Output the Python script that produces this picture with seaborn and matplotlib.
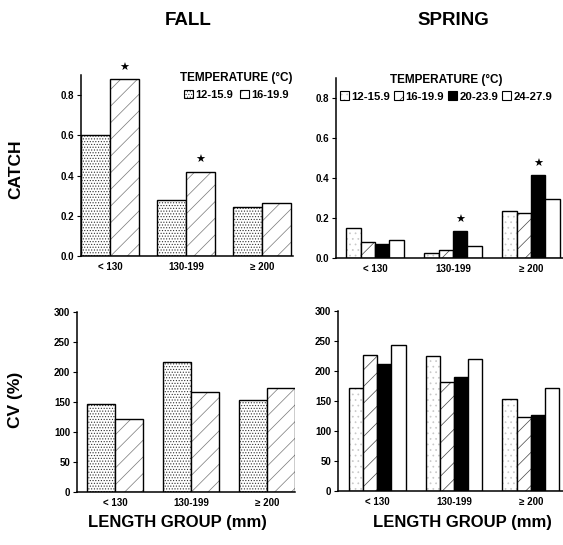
import numpy as np
import pandas as pd
import seaborn as sns
import matplotlib
matplotlib.use("Agg")
from matplotlib import pyplot as plt
from matplotlib.colors import to_rgba
from matplotlib.patches import Patch

# datos
grupos = ["< 130", "130-199", "\u2265 200"]
temps_otono = ["12-15.9", "16-19.9"]
temps_primavera = ["12-15.9", "16-19.9", "20-23.9", "24-27.9"]

catch_otono_12 = [0.60, 0.28, 0.245]
catch_otono_16 = [0.88, 0.42, 0.265]
catch_prim_12 = [0.15, 0.027, 0.235]
catch_prim_16 = [0.08, 0.038, 0.227]
catch_prim_20 = [0.072, 0.133, 0.413]
catch_prim_24 = [0.092, 0.06, 0.293]

cv_otono_12 = [147, 217, 154]
cv_otono_16 = [122, 166, 174]
cv_prim_12 = [172, 225, 153]
cv_prim_16 = [227, 182, 124]
cv_prim_20 = [212, 190, 126]
cv_prim_24 = [244, 220, 171]

# asteriscos (grupo, temperatura)
estrellas_otono = [("< 130", "16-19.9"), ("130-199", "16-19.9")]
estrellas_prim = [("130-199", "20-23.9"), ("\u2265 200", "20-23.9")]

# relleno de cada temperatura: color, trama, color de trama
estilo_otono = [("white", "......", "#333333"), ("white", "//", "#777777")]
estilo_prim = [("white", "...", "#c8c8c8"), ("white", "//", "#444444"),
               ("black", "", "black"), ("white", "", "black")]

sns.set_style("ticks")
plt.rcParams["font.family"] = ["Liberation Sans", "DejaVu Sans"]
plt.rcParams["font.weight"] = "bold"
plt.rcParams["hatch.linewidth"] = 0.5
for k in ["text.color", "axes.labelcolor", "xtick.color", "ytick.color", "axes.edgecolor"]:
    plt.rcParams[k] = "black"


def poner_trama(p, hatch, hcolor):
    # la trama sale del color del borde; se cambia despues para dejar el borde negro
    p.set_hatch(hatch)
    if hatch:
        if hasattr(p, "set_hatchcolor"):
            p.set_hatchcolor(hcolor)
        else:
            p._hatch_color = to_rgba(hcolor)


def tabla(temps, series):
    filas = []
    for t, valores in zip(temps, series):
        for g, v in zip(grupos, valores):
            filas.append({"grupo": g, "temp": t, "valor": v})
    return pd.DataFrame(filas)


def dibujar(ax, df, temps, estilos, ancho, ylim, yticks, fmt, xlim, estrellas=None):
    sns.barplot(data=df, x="grupo", y="valor", hue="temp", order=grupos, hue_order=temps,
                palette=["white"] * len(temps), width=ancho, ax=ax, legend=False,
                edgecolor="black", linewidth=1.0)
    for i, cont in enumerate(ax.containers):
        color, hatch, hcolor = estilos[i]
        for p in cont:
            p.set_facecolor(color)
            p.set_edgecolor("black")
            poner_trama(p, hatch, hcolor)
    if estrellas:
        for g, t in estrellas:
            p = ax.containers[temps.index(t)][grupos.index(g)]
            ax.annotate("\u2605", (p.get_x() + p.get_width() / 2, p.get_height()),
                        xytext=(0, 8), textcoords="offset points", ha="center", va="center",
                        fontsize=8, family="DejaVu Sans")
    ax.set_ylim(*ylim)
    ax.set_xlim(*xlim)
    ax.set_yticks(yticks)
    ax.set_yticklabels([fmt.format(v) for v in yticks])
    ax.set_xlabel("")
    ax.set_ylabel("")
    ax.tick_params(axis="y", length=3, width=0.8, labelsize=7, pad=2)
    ax.tick_params(axis="x", length=0, labelsize=7, pad=4)
    for lab in ax.get_xticklabels() + ax.get_yticklabels():
        lab.set_fontweight("bold")
    sns.despine(ax=ax)
    ax.spines["left"].set_linewidth(1.1)
    ax.spines["bottom"].set_linewidth(1.1)


def leyenda(fig, temps, estilos, x, y, tam, sep):
    handles = []
    for c, h, hc in estilos:
        pa = Patch(facecolor=c, edgecolor="black", linewidth=0.8)
        poner_trama(pa, h, hc)
        handles.append(pa)
    leg = fig.legend(handles, temps, title="TEMPERATURE (\u00b0C)", loc="upper left",
                     bbox_to_anchor=(x, y), bbox_transform=fig.transFigure, ncol=len(temps),
                     frameon=False, fontsize=tam, title_fontsize=8.5, handlelength=0.8,
                     handleheight=0.8, handletextpad=0.2, columnspacing=sep, borderpad=0,
                     borderaxespad=0)
    leg.get_title().set_fontweight("bold")
    for t in leg.get_texts():
        t.set_fontweight("bold")


fig = plt.figure(figsize=(5.63, 5.45), dpi=100)
ax1 = fig.add_axes([0.1439, 0.5303, 0.3766, 0.3321])
ax2 = fig.add_axes([0.5968, 0.5266, 0.4032, 0.3303])
ax3 = fig.add_axes([0.1368, 0.0972, 0.3872, 0.3303])
ax4 = fig.add_axes([0.6004, 0.0991, 0.3996, 0.3303])

ticks_catch = [0.0, 0.2, 0.4, 0.6, 0.8]
ticks_cv = [0, 50, 100, 150, 200, 250, 300]

dibujar(ax1, tabla(temps_otono, [catch_otono_12, catch_otono_16]), temps_otono, estilo_otono,
        0.76, (0, 0.9), ticks_catch, "{:.1f}", (-0.38, 2.41), estrellas_otono)
dibujar(ax2, tabla(temps_primavera, [catch_prim_12, catch_prim_16, catch_prim_20, catch_prim_24]),
        temps_primavera, estilo_prim, 0.74, (0, 0.9), ticks_catch, "{:.1f}", (-0.5, 2.41),
        estrellas_prim)
dibujar(ax3, tabla(temps_otono, [cv_otono_12, cv_otono_16]), temps_otono, estilo_otono,
        0.74, (0, 300), ticks_cv, "{:d}", (-0.5, 2.37))
dibujar(ax4, tabla(temps_primavera, [cv_prim_12, cv_prim_16, cv_prim_20, cv_prim_24]),
        temps_primavera, estilo_prim, 0.74, (0, 300), ticks_cv, "{:d}", (-0.51, 2.42))

leyenda(fig, temps_otono, estilo_otono, 0.320, 0.868, 8, 0.6)
leyenda(fig, temps_primavera, estilo_prim, 0.604, 0.865, 8.2, 0.35)

fig.text(0.334, 0.963, "FALL", ha="center", va="center", fontsize=13.5, fontweight="bold")
fig.text(0.805, 0.963, "SPRING", ha="center", va="center", fontsize=13.5, fontweight="bold")
fig.text(0.028, 0.69, "CATCH", ha="center", va="center", rotation=90, fontsize=12.5, fontweight="bold")
fig.text(0.028, 0.266, "CV (%)", ha="center", va="center", rotation=90, fontsize=12.5, fontweight="bold")
fig.text(0.316, 0.042, "LENGTH GROUP (mm)", ha="center", va="center", fontsize=12, fontweight="bold")
fig.text(0.821, 0.042, "LENGTH GROUP (mm)", ha="center", va="center", fontsize=12, fontweight="bold")

fig.savefig("out.png", dpi=100)
